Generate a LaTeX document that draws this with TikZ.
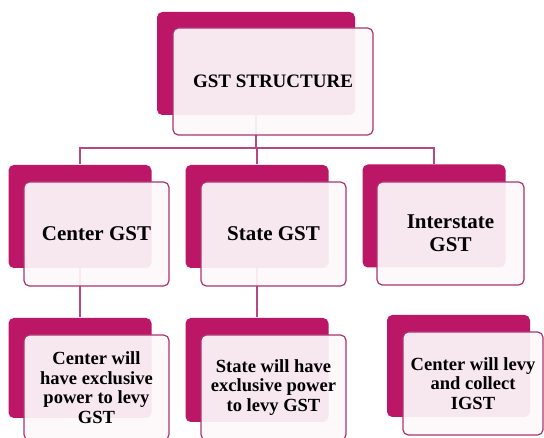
\documentclass[tikz,border=0pt]{standalone}
\usepackage{fontspec}
\setmainfont{Liberation Serif}

\definecolor{gstback}{RGB}{188,22,102}
\definecolor{gstfront}{RGB}{253,249,251}
\definecolor{gstedge}{RGB}{172,50,110}
\definecolor{gstlink}{RGB}{184,72,130}

\tikzset{every picture/.style={line width=0.75pt}}
\tikzset{
  backbox/.style={draw=none, fill=gstback, rounded corners=4pt, inner sep=0pt,
    minimum width=107.25pt, minimum height=77.25pt},
  frontbox/.style={draw=gstedge, line width=0.9pt, fill=gstfront, fill opacity=0.92,
    text opacity=1, rounded corners=4pt, inner sep=0pt, align=center,
    minimum width=108.75pt, minimum height=78pt},
  link/.style={draw=gstlink, line width=0.8pt},
  toptext/.style={font=\fontsize{14.25}{16}\selectfont\bfseries},
  midtext/.style={font=\fontsize{15.75}{17.5}\selectfont\bfseries},
  lowtext/.style={font=\fontsize{13.9}{14.6}\selectfont\bfseries}
}

\begin{document}
\begin{tikzpicture}[x=0.75pt,y=0.75pt,yscale=-1,xscale=1]
	\useasboundingbox (0,0) rectangle (544,438);

	%Shape: back boxes
	\node [backbox, minimum width=148.5pt] (top-bk) at (256,63.5) {};
	\node [backbox] (ctr-bk) at (80,216.5) {};
	\node [backbox] (st-bk) at (257,216.5) {};
	\node [backbox] (int-bk) at (434,216) {};
	\node [backbox, minimum height=75pt] (ctrlo-bk) at (80,368) {};
	\node [backbox, minimum height=78pt] (stlo-bk) at (257,370) {};
	\node [backbox, minimum height=76.5pt] (intlo-bk) at (458.5,366) {};

	%Straight Lines: connectors
	\coordinate (hub) at (top-bk.south |- 0,148);
	\draw [link] (top-bk.south) -- (hub);
	\draw [link] (hub) -| (ctr-bk.north);
	\draw [link] (hub) -| (st-bk.north);
	\draw [link] (hub) -| (int-bk.north);
	\draw [link] (ctr-bk.south) -- (ctrlo-bk.north);
	\draw [link] (st-bk.south) -- (stlo-bk.north);

	% Text Node
	\node [frontbox, toptext, minimum width=150pt, minimum height=80.25pt] (top-fr) at (273,81.5) {GST STRUCTURE};
	% Text Node
	\node [frontbox, midtext] (ctr-fr) at (96.5,234) {Center GST};
	% Text Node
	\node [frontbox, midtext] (st-fr) at (273.5,234) {State GST};
	% Text Node
	\node [frontbox, midtext, minimum width=110.25pt, minimum height=77.25pt] (int-fr) at (450.5,233.5) {Interstate\\GST};
	% Text Node
	\node [frontbox, lowtext, minimum height=78.75pt] (ctrlo-fr) at (96.5,387.5) {Center will\\have exclusive\\power to levy\\GST};
	% Text Node
	\node [frontbox, lowtext, minimum height=78.75pt] (stlo-fr) at (273.5,387.5) {State will have\\exclusive power\\to levy GST};
	% Text Node
	\node [frontbox, lowtext, minimum width=105pt, minimum height=77.25pt] (intlo-fr) at (473,383.5) {Center will levy\\and collect\\IGST};

\end{tikzpicture}
\end{document}
